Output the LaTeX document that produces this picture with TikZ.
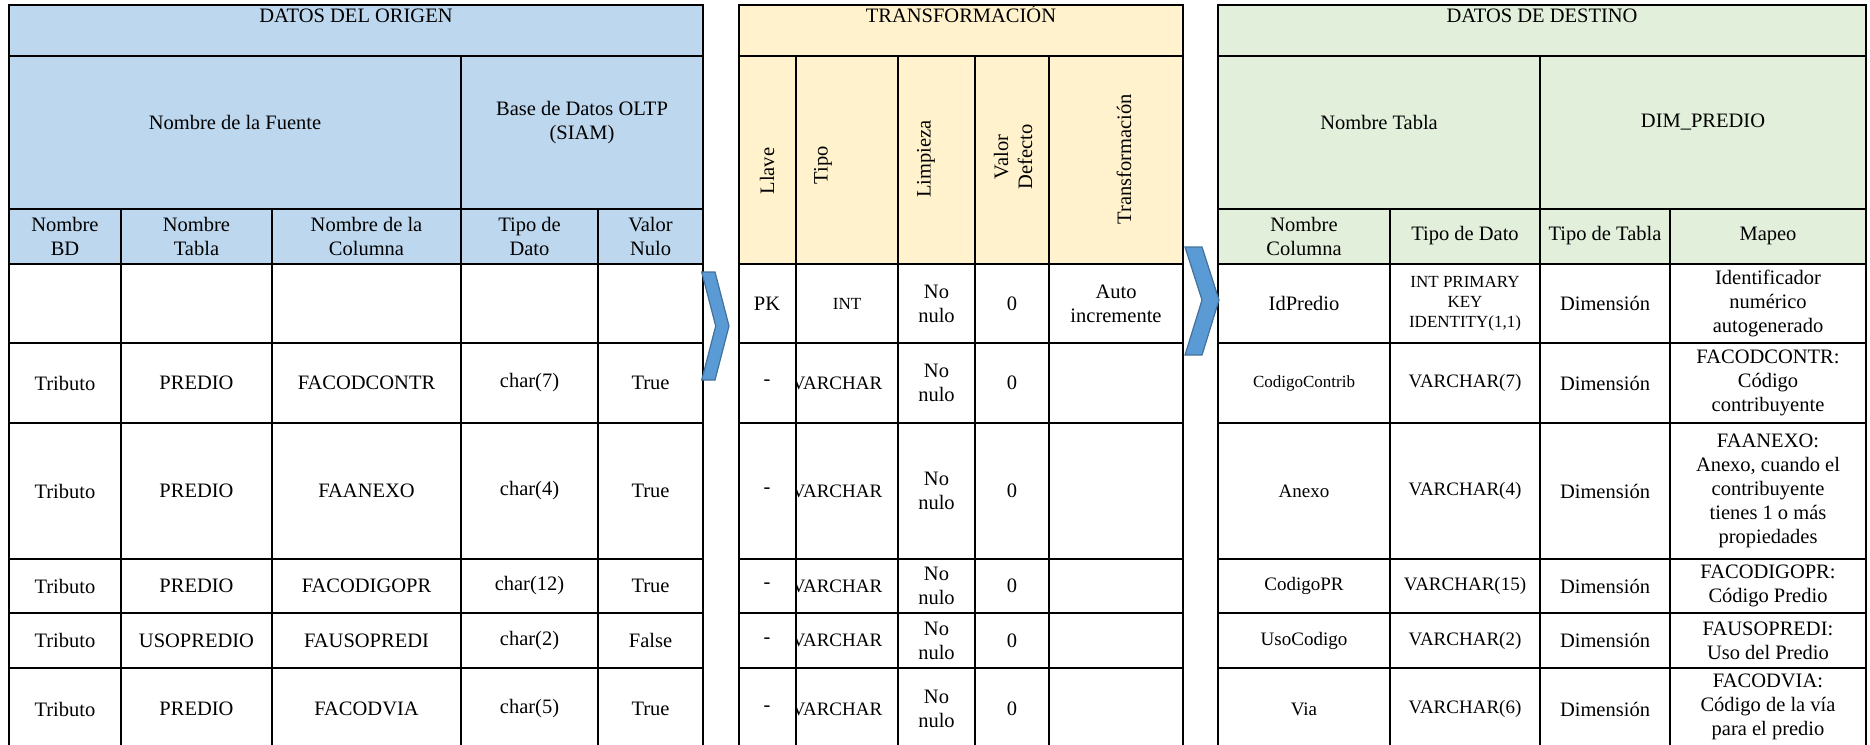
\documentclass[tikz,border=0pt]{standalone}
\usepackage{fontspec}
\setmainfont{Liberation Serif}
\definecolor{origfill}{HTML}{BDD7EE}
\definecolor{trfill}{HTML}{FFF2CC}
\definecolor{destfill}{HTML}{E2EFDA}
\definecolor{chevfill}{HTML}{5B9BD5}
\definecolor{chevline}{HTML}{41719C}

\begin{document}
\begin{tikzpicture}[x=1pt,y=-1pt,
  grid/.style={line width=2.2pt, line cap=rect},
  txt/.style={inner sep=0pt, align=center, font=\fontsize{20.5}{24}\selectfont},
  smalltxt/.style={txt, font=\fontsize{17}{20}\selectfont},
  midtxt/.style={txt, font=\fontsize{19}{22}\selectfont},
  vtxt/.style={txt, rotate=90},
  chevron/.style={fill=chevfill, draw=chevline, line width=1.2pt, line join=miter}]
\useasboundingbox (0,0) rectangle (1870,744);
\clip (0,0) rectangle (1870,744);

% ---------- header fills ----------
\fill[origfill] (9,5) rectangle (703,264);
\fill[trfill]   (739,5) rectangle (1183,264);
\fill[destfill] (1218,5) rectangle (1866,264);

% ---------- source table grid ----------
\draw[grid] (9,5) rectangle (703,760);
\foreach \y in {56,209,264,343,423,559,613,668} \draw[grid] (9,\y) -- (703,\y);
\draw[grid] (461,56) -- (461,760);
\foreach \x in {121,272,598} \draw[grid] (\x,209) -- (\x,760);

% ---------- transformation table grid ----------
\draw[grid] (739,5) rectangle (1183,760);
\foreach \y in {56,264,343,423,559,613,668} \draw[grid] (739,\y) -- (1183,\y);
\foreach \x in {796,898,975,1049} \draw[grid] (\x,56) -- (\x,760);

% ---------- target table grid ----------
\draw[grid] (1218,5) rectangle (1866,760);
\foreach \y in {56,209,264,343,423,559,613,668} \draw[grid] (1218,\y) -- (1866,\y);
\draw[grid] (1540,56) -- (1540,760);
\foreach \x in {1390,1670} \draw[grid] (\x,209) -- (\x,760);

% ---------- source table text ----------
\node[txt, anchor=base] (otitle) at (356,23) {DATOS DEL ORIGEN};
\node[txt] (ofuente) at (235,122) {Nombre de la Fuente};
\node[txt] (obase) at (582,123) {Base de Datos OLTP\\(SIAM)};
\node[txt] (oh1) at (65,236) {Nombre\\BD};
\node[txt] (oh2) at (196.5,236) {Nombre\\Tabla};
\node[txt] (oh3) at (366.5,236) {Nombre de la\\Columna};
\node[txt] (oh4) at (529.5,236) {Tipo de\\Dato};
\node[txt] (oh5) at (650.5,236) {Valor\\Nulo};

\foreach \r/\y/\a/\b/\c/\d/\e in {
  2/383/Tributo/PREDIO/FACODCONTR/char(7)/True,
  3/491/Tributo/PREDIO/FAANEXO/char(4)/True,
  4/586/Tributo/PREDIO/FACODIGOPR/char(12)/True,
  5/640.5/Tributo/USOPREDIO/FAUSOPREDI/char(2)/False,
  6/709/Tributo/PREDIO/FACODVIA/char(5)/True}{
  \node[txt] (o\r a) at (65,\y) {\a};
  \node[txt] (o\r b) at (196.5,\y) {\b};
  \node[txt] (o\r c) at (366.5,\y) {\c};
  \node[txt] (o\r d) at (529.5,\y) {\d};
  \node[txt] (o\r e) at (650.5,\y) {\e};
}

% ---------- transformation table text ----------
\node[txt, anchor=base] (ttitle) at (961,23) {TRANSFORMACIÓN};
\node[vtxt] (th1) at (767,171) {Llave};
\node[vtxt] (th2) at (823,165) {Tipo};
\node[vtxt] (th3) at (926,159) {Limpieza};
\node[vtxt] (th4) at (1013,157) {Valor\\Defecto};
\node[vtxt] (th5) at (1124,159) {Transformación};

\node[txt] (t1a) at (767,303.5) {PK};
\node[smalltxt] (t1b) at (847,303.5) {INT};
\node[txt] (t1c) at (936.5,303.5) {No\\nulo};
\node[txt] (t1d) at (1012,303.5) {0};
\node[txt] (t1e) at (1116,303.5) {Auto\\incremente};
\foreach \r/\y in {2/383,3/491,4/586,5/640.5,6/709}{
  \node[txt] (t\r a) at (767,\y) {-};
  \node[txt] (t\r c) at (936.5,\y) {No\\nulo};
  \node[txt] (t\r d) at (1012,\y) {0};
}
\begin{scope}
  \clip (797,264) rectangle (898,760);
  \foreach \r/\y in {2/383,3/491,4/586,5/640.5,6/709}
    \node[midtxt] (t\r b) at (837,\y) {VARCHAR};
\end{scope}
% redraw the column rule over the clipped type names
\draw[grid] (796,264) -- (796,760);

% ---------- target table text ----------
\node[txt, anchor=base] (dtitle) at (1542,23) {DATOS DE DESTINO};
\node[txt] (dnombre) at (1379,122) {Nombre Tabla};
\node[txt] (ddim) at (1703,122) {DIM\_PREDIO};
\node[txt] (dh1) at (1304,236) {Nombre\\Columna};
\node[txt] (dh2) at (1465,236) {Tipo de Dato};
\node[txt] (dh3) at (1605,236) {Tipo de Tabla};
\node[txt] (dh4) at (1768,236) {Mapeo};

\node[txt] (d1a) at (1304,303.5) {IdPredio};
\node[smalltxt] (d1b) at (1465,303.5) {INT PRIMARY\\KEY\\IDENTITY(1,1)};
\node[txt] (d1c) at (1605,303.5) {Dimensión};
\node[txt] (d1d) at (1768,303.5) {Identificador\\numérico\\autogenerado};

\node[smalltxt] (d2a) at (1304,383) {CodigoContrib};
\node[midtxt] (d2b) at (1465,383) {VARCHAR(7)};
\node[txt] (d2c) at (1605,383) {Dimensión};
\node[txt] (d2d) at (1768,383) {FACODCONTR:\\Código\\contribuyente};

\node[midtxt] (d3a) at (1304,491) {Anexo};
\node[midtxt] (d3b) at (1465,491) {VARCHAR(4)};
\node[txt] (d3c) at (1605,491) {Dimensión};
\node[txt] (d3d) at (1768,491) {FAANEXO:\\Anexo, cuando el\\contribuyente\\tienes 1 o más\\propiedades};

\node[midtxt] (d4a) at (1304,586) {CodigoPR};
\node[midtxt] (d4b) at (1465,586) {VARCHAR(15)};
\node[txt] (d4c) at (1605,586) {Dimensión};
\node[txt] (d4d) at (1768,586) {FACODIGOPR:\\Código Predio};

\node[midtxt] (d5a) at (1304,640.5) {UsoCodigo};
\node[midtxt] (d5b) at (1465,640.5) {VARCHAR(2)};
\node[txt] (d5c) at (1605,640.5) {Dimensión};
\node[txt] (d5d) at (1768,640.5) {FAUSOPREDI:\\Uso del Predio};

\node[midtxt] (d6a) at (1304,709) {Via};
\node[midtxt] (d6b) at (1465,709) {VARCHAR(6)};
\node[txt] (d6c) at (1605,709) {Dimensión};
\node[txt] (d6d) at (1768,707) {FACODVIA:\\Código de la vía\\para el predio};

% ---------- flow chevrons between the tables ----------
\draw[chevron] (701.7,272) -- (715,272) -- (729,326) -- (715,380) -- (701.7,380) -- (715.7,326) -- cycle;
\draw[chevron] (1185,247) -- (1202,247) -- (1219,300) -- (1202,355) -- (1185,355) -- (1202,300) -- cycle;
\end{tikzpicture}
\end{document}
